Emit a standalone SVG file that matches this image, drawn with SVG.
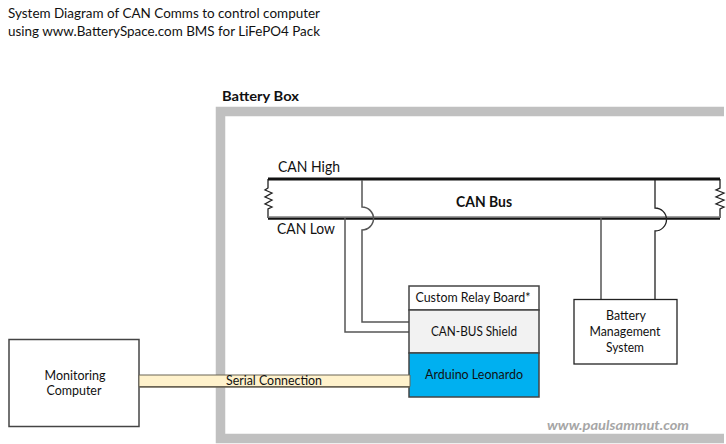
<svg xmlns="http://www.w3.org/2000/svg" width="726" height="444" viewBox="0 0 726 444">
<defs><style>
text{font-family:"Lato","Open Sans","Liberation Sans",sans-serif;font-size:13px;fill:#111;text-anchor:middle}
.l{text-anchor:start}
.w{fill:none;stroke:#555;stroke-width:1.5}
.k{fill:none;stroke:#222;stroke-width:1.3}
.box{stroke:#444;stroke-width:1.5}
</style></defs>
<rect width="726" height="444" fill="#fff"/>
<text class="l" x="8" y="18" textLength="312" lengthAdjust="spacingAndGlyphs">System Diagram of CAN Comms to control computer</text>
<text class="l" x="8" y="36" textLength="312" lengthAdjust="spacingAndGlyphs">using www.BatterySpace.com BMS for LiFePO4 Pack</text>
<g id="battery-box">
<path d="M724 111.500H220.500V438.500H724" fill="none" stroke="#c0c0c0" stroke-width="9.500"/>
<text class="l" x="222" y="101" style="font-weight:700;font-size:14px" textLength="77" lengthAdjust="spacingAndGlyphs">Battery Box</text>
</g>
<g id="connectors">
<path class="k" d="M268 179V188L265 190L272 193L265 197L272 200L265 204L272 207L268 209V218"/>
<path class="k" d="M720 179V188L716 190L724 193L716 197L724 200L716 204L724 207L720 209V218"/>
<path d="M268 179H720" stroke="#111" stroke-width="3" fill="none"/>
<path d="M268 218.500H720" stroke="#111" stroke-width="2.500" fill="none"/>
<path d="M268 217H720" stroke="#808080" stroke-width="1.500" fill="none"/>
<path class="w" d="M345 218V332H409"/>
<path class="w" d="M362 180V207A11.500 11.500 0 0 1 362 230V322H409"/>
<path class="w" d="M601 218V299"/>
<path class="k" d="M655 180V208A11.500 11.500 0 0 1 655 231V299"/>
</g>
<text class="l" x="278" y="172" style="font-size:15px" textLength="62" lengthAdjust="spacingAndGlyphs">CAN High</text>
<text class="l" x="277" y="234" style="font-size:15px" textLength="58" lengthAdjust="spacingAndGlyphs">CAN Low</text>
<text x="484" y="207" style="font-size:15px;font-weight:700" textLength="56" lengthAdjust="spacingAndGlyphs">CAN Bus</text>
<g id="monitoring-computer">
<rect class="box" x="9" y="339.500" width="130" height="87" fill="#fff"/>
<text x="75" y="380" textLength="61" lengthAdjust="spacingAndGlyphs">Monitoring</text>
<text x="74" y="395" textLength="55" lengthAdjust="spacingAndGlyphs">Computer</text>
</g>
<g id="custom-relay-board">
<rect class="box" x="409" y="286" width="130" height="24" fill="#fff"/>
<text x="473" y="302" textLength="115" lengthAdjust="spacingAndGlyphs">Custom Relay Board*</text>
</g>
<g id="can-bus-shield">
<rect class="box" x="409" y="310" width="130" height="43" fill="#f2f2f2"/>
<text x="474" y="336" textLength="86" lengthAdjust="spacingAndGlyphs">CAN-BUS Shield</text>
</g>
<g id="arduino-leonardo">
<rect class="box" x="409" y="353" width="130" height="44" fill="#00b0f0"/>
<text x="474" y="379" textLength="98" lengthAdjust="spacingAndGlyphs">Arduino Leonardo</text>
</g>
<g id="serial-connection">
<rect x="139" y="375" width="271" height="12" fill="#fff2cc"/>
<path d="M410 375H139V386.500H410V375" fill="none" stroke="#6b6455" stroke-width="1"/>
<path d="M139 387H410" stroke="#6b6455" stroke-width="1.500"/>
<text x="274" y="385" textLength="96" lengthAdjust="spacingAndGlyphs">Serial Connection</text>
</g>
<g id="bms">
<rect x="574" y="299.500" width="103" height="64.500" fill="#fff" stroke="#222" stroke-width="1.300"/>
<text x="626" y="320" textLength="40" lengthAdjust="spacingAndGlyphs">Battery</text>
<text x="625" y="336" textLength="71" lengthAdjust="spacingAndGlyphs">Management</text>
<text x="625" y="352" textLength="38" lengthAdjust="spacingAndGlyphs">System</text>
</g>
<text x="618" y="430" style="font-size:14px;font-weight:700;font-style:italic;fill:#a6a6a6" textLength="142" lengthAdjust="spacingAndGlyphs">www.paulsammut.com</text>
</svg>
